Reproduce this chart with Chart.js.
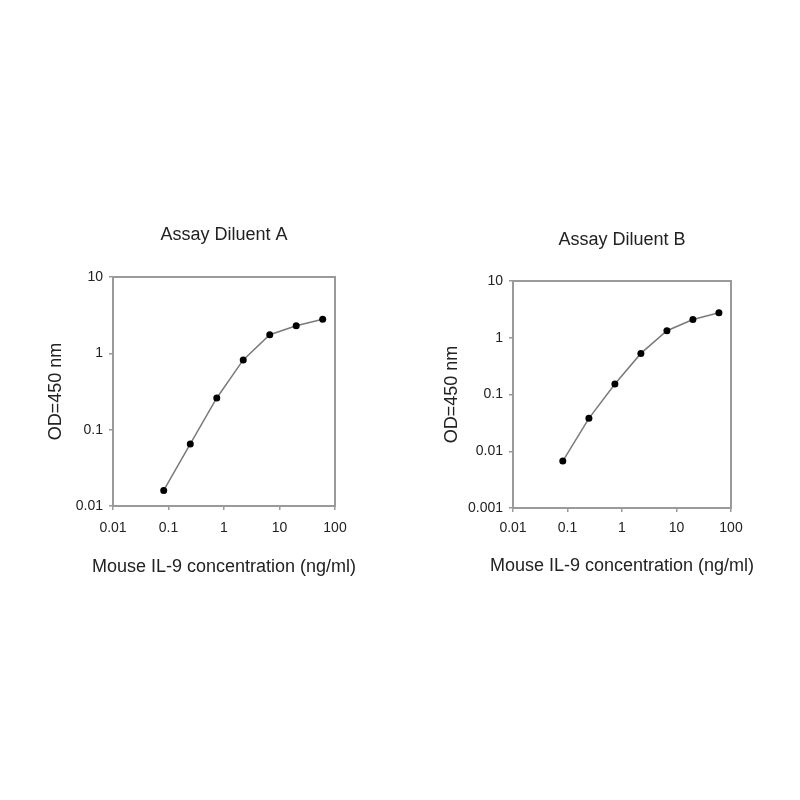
<!DOCTYPE html>
<html>
<head>
<meta charset="utf-8">
<script src="https://cdn.jsdelivr.net/npm/chart.js@4.4.1/dist/chart.umd.min.js"></script>
<style>
  html, body { margin: 0; padding: 0; background: #fff; width: 800px; height: 800px; overflow: hidden; }
  canvas { position: absolute; }
  #chartA { left: 0px; top: 200px; }
  #chartB { left: 422px; top: 200px; }
</style>
</head>
<body>
<canvas id="chartA" width="448" height="400"></canvas>
<canvas id="chartB" width="400" height="400"></canvas>
<script>
// Concentrations (ng/ml), same dilution series on both plots
const concentrations = [0.082, 0.247, 0.741, 2.22, 6.67, 20, 60];

// OD at 450 nm
const odDiluentA = [0.016, 0.065, 0.26, 0.82, 1.75, 2.3, 2.8];
const odDiluentB = [0.0067, 0.038, 0.153, 0.53, 1.33, 2.1, 2.75];

// Tick values and labels
const xTicks = [0.01, 0.1, 1, 10, 100];
const xTickLabels = ['0.01', '0.1', '1', '10', '100'];
const yTicksA = [0.01, 0.1, 1, 10];
const yTickLabelsA = ['0.01', '0.1', '1', '10'];
const yTicksB = [0.001, 0.01, 0.1, 1, 10];
const yTickLabelsB = ['0.001', '0.01', '0.1', '1', '10'];

const xAxisTitle = 'Mouse IL-9 concentration (ng/ml)';
const yAxisTitle = 'OD=450 nm';

const axisGray = '#9a9a9a';
const textColor = '#222';
Chart.defaults.font.family = "Arial, 'Liberation Sans', sans-serif";
Chart.defaults.color = textColor;

// draws the box around the plot area
const frame = {
    id: 'frame',
    beforeDatasetsDraw(chart) {
        const { ctx, chartArea: a } = chart;
        ctx.save();
        ctx.strokeStyle = axisGray;
        ctx.lineWidth = 2;
        ctx.strokeRect(a.left, a.top, a.right - a.left, a.bottom - a.top);
        ctx.restore();
    }
};

// x title is wider than the plot, Chart.js would squeeze it, so draw it here
const xTitle = {
    id: 'xTitle',
    afterDraw(chart, args, opts) {
        const { ctx, chartArea: a } = chart;
        ctx.save();
        ctx.fillStyle = textColor;
        ctx.font = "18px Arial, 'Liberation Sans', sans-serif";
        ctx.textAlign = 'center';
        ctx.textBaseline = 'middle';
        ctx.fillText(xAxisTitle, (a.left + a.right) / 2, opts.y);
        ctx.restore();
    }
};

function fixedTicks(values) {
    return scale => { scale.ticks = values.map(v => ({ value: v })); };
}

function labelFor(values, labels) {
    return value => {
        const i = values.findIndex(v => Math.abs(v - value) / v < 1e-6);
        return i >= 0 ? labels[i] : '';
    };
}

function makeChart(id, title, odValues, yTicks, yLabels, g) {
    new Chart(document.getElementById(id), {
        type: 'scatter',
        data: {
            datasets: [{
                data: concentrations.map((c, i) => ({ x: c, y: odValues[i] })),
                showLine: true,
                borderColor: '#7a7a7a',
                borderWidth: 1.5,
                tension: 0,
                pointRadius: 3.5,
                pointBackgroundColor: '#000',
                pointBorderColor: '#000',
                pointBorderWidth: 0
            }]
        },
        plugins: [frame, xTitle],
        options: {
            responsive: false,
            animation: false,
            layout: { padding: 0 },
            plugins: {
                legend: { display: false },
                tooltip: { enabled: false },
                xTitle: { y: g.xTitleY },
                title: {
                    display: true,
                    text: title,
                    color: textColor,
                    font: { size: 18, weight: 'normal' },
                    padding: { top: g.titleTop, bottom: g.titleBottom }
                }
            },
            scales: {
                x: {
                    type: 'logarithmic',
                    min: xTicks[0],
                    max: xTicks[xTicks.length - 1],
                    afterBuildTicks: fixedTicks(xTicks),
                    afterFit: s => { s.height = g.xHeight; },
                    border: { display: false },
                    grid: { drawOnChartArea: false, drawTicks: true, tickLength: 4, color: axisGray, lineWidth: 1.5 },
                    ticks: { callback: labelFor(xTicks, xTickLabels), font: { size: 14 }, padding: g.xTickPad, maxRotation: 0, autoSkip: false }
                },
                y: {
                    type: 'logarithmic',
                    min: yTicks[0],
                    max: yTicks[yTicks.length - 1],
                    afterBuildTicks: fixedTicks(yTicks),
                    afterFit: s => { s.width = g.yWidth; },
                    border: { display: false },
                    grid: { drawOnChartArea: false, drawTicks: true, tickLength: 4, color: axisGray, lineWidth: 1.5 },
                    ticks: { callback: labelFor(yTicks, yLabels), font: { size: 14 }, padding: 6, autoSkip: false },
                    title: {
                        display: true,
                        text: yAxisTitle,
                        font: { size: 18 },
                        padding: { top: g.yTitleTop, bottom: 0 }
                    }
                },
                y2: {
                    type: 'linear',
                    position: 'right',
                    afterFit: s => { s.width = g.yWidth; },
                    border: { display: false },
                    grid: { display: false },
                    ticks: { display: false }
                }
            }
        }
    });
}

makeChart('chartA', 'Assay Diluent A', odDiluentA, yTicksA, yTickLabelsA,
    { titleTop: 24.2, titleBottom: 31.2, xHeight: 94, xTickPad: 9.6, xTitleY: 367, yWidth: 113, yTitleTop: 45.2 });
makeChart('chartB', 'Assay Diluent B', odDiluentB, yTicksB, yTickLabelsB,
    { titleTop: 29.2, titleBottom: 30.2, xHeight: 92, xTickPad: 7.6, xTitleY: 366, yWidth: 91, yTitleTop: 18.9 });
</script>
</body>
</html>
